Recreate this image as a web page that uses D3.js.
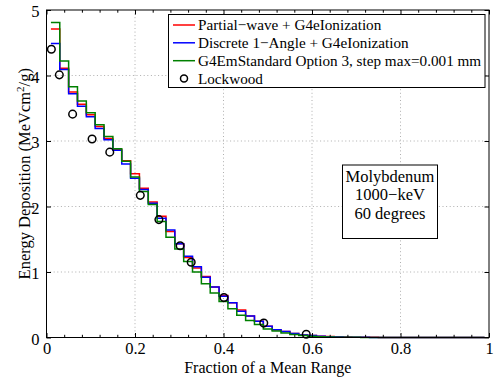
<!DOCTYPE html>
<html>
<head>
<meta charset="utf-8">
<script src="https://cdn.jsdelivr.net/npm/d3@7"></script>
<style>
  html, body { margin: 0; padding: 0; background: #fff; }
  svg { display: block; font-family: "Liberation Serif", "Times New Roman", serif; }
</style>
</head>
<body>
<svg id="chart" width="495" height="380"></svg>
<script>
// ---- data ----
const binEdges = [0.01,0.03,0.05,0.07,0.09,0.11,0.13,0.15,0.17,0.19,
                  0.21,0.23,0.25,0.27,0.29,0.31,0.33,0.35,0.37,0.39,
                  0.41,0.43,0.45,0.47,0.49,0.51,0.53,0.55,0.57,0.59,
                  0.61,0.63,0.65,0.67,0.69,0.71,0.73,0.75,0.77,0.79,
                  0.81,0.83,0.85,0.87,0.89,0.91,0.93,0.95,0.97,0.99];
const partialWave = [4.71,4.11,3.75,3.56,3.40,3.22,3.04,2.87,2.70,2.50,
                     2.28,2.07,1.85,1.62,1.43,1.22,1.06,0.93,0.77,0.64,
                     0.53,0.42,0.33,0.25,0.17,0.12,0.09,0.06,0.04,0.03,
                     0.02,0.015,0.01,0.006,0.004,0.003,0.002,0.001,0,0,
                     0,0,0,0,0,0,0,0,0,0];
const discrete1Angle = [4.49,4.09,3.72,3.53,3.37,3.19,3.02,2.86,2.65,2.43,
                        2.26,2.05,1.82,1.64,1.43,1.24,1.08,0.92,0.77,0.63,
                        0.53,0.40,0.33,0.25,0.17,0.12,0.09,0.06,0.04,0.03,
                        0.02,0.013,0.009,0.005,0.003,0.002,0.001,0,0,0,
                        0,0,0,0,0,0,0,0,0,0];
const emStandardOpt3 = [4.81,4.22,3.83,3.61,3.43,3.25,3.07,2.88,2.69,2.45,
                        2.23,2.03,1.77,1.53,1.35,1.16,1.00,0.82,0.68,0.55,
                        0.44,0.34,0.26,0.20,0.13,0.10,0.07,0.045,0.03,0.02,
                        0.01,0.008,0.005,0.003,0.002,0.001,0,0,0,0,
                        0,0,0,0,0,0,0,0,0,0];
const lockwoodX = [0.011,0.029,0.059,0.103,0.143,0.212,0.254,0.302,0.327,0.401,0.491,0.587];
const lockwoodY = [4.40,4.01,3.41,3.03,2.83,2.17,1.80,1.40,1.15,0.61,0.22,0.05];

const seriesNames = ["Partial\u2212wave + G4eIonization",
                     "Discrete 1\u2212Angle + G4eIonization",
                     "G4EmStandard Option 3, step max=0.001 mm"];
const seriesColors = ["#ff0000", "#0000ff", "#008000"];
const lockwoodName = "Lockwood";
const xTicks = [0, 0.2, 0.4, 0.6, 0.8, 1];
const xTickLabels = ["0", "0.2", "0.4", "0.6", "0.8", "1"];
const xMinorTicks = [0.04,0.08,0.12,0.16,0.24,0.28,0.32,0.36,0.44,0.48,0.52,0.56,0.64,0.68,0.72,0.76,0.84,0.88,0.92,0.96];
const yTicks = [0, 1, 2, 3, 4, 5];
const yTickLabels = ["0", "1", "2", "3", "4", "5"];
const annotationLines = ["Molybdenum", "1000\u2212keV", "60 degrees"];

// ---- layout ----
const svg = d3.select("#chart");
const L = 46.5, R = 489, T = 10, B = 337.5;
const x = d3.scaleLinear().domain([0, 1]).range([L, R]);
const y = d3.scaleLinear().domain([0, 5]).range([B, T]);

// grid
const grid = svg.append("g").attr("stroke", "#9a9a9a").attr("stroke-width", 0.8)
  .attr("stroke-dasharray", "1,2.6");
xTicks.filter(d => d > 0 && d < 1).forEach(d => {
  grid.append("line").attr("x1", x(d)).attr("x2", x(d)).attr("y1", T).attr("y2", B);
});
yTicks.filter(d => d > 0 && d < 5).forEach(d => {
  grid.append("line").attr("x1", L).attr("x2", R).attr("y1", y(d)).attr("y2", y(d));
});

// series (stairs)
const series = [partialWave, discrete1Angle, emStandardOpt3];
const line = d3.line().curve(d3.curveStepAfter)
  .x(d => x(d[0])).y(d => y(d[1]));
series.forEach((vals, i) => {
  const pts = binEdges.map((e, k) => [e, vals[k]]);
  svg.append("path").attr("d", line(pts)).attr("fill", "none")
    .attr("stroke", seriesColors[i]).attr("stroke-width", 1.5);
});

// Lockwood
svg.append("g").selectAll("circle").data(lockwoodX).join("circle")
  .attr("cx", (d) => x(d)).attr("cy", (d, i) => y(lockwoodY[i])).attr("r", 3.8)
  .attr("fill", "none").attr("stroke", "#000").attr("stroke-width", 1.5);

// axes frame
svg.append("rect").attr("x", L).attr("y", T).attr("width", R - L).attr("height", B - T)
  .attr("fill", "none").attr("stroke", "#000").attr("stroke-width", 1);

// ticks (inward, both sides)
const axBottom = d3.axisBottom(x).tickValues(xTicks).tickSize(-4.5).tickFormat((d, i) => xTickLabels[i]).tickPadding(7);
const gB = svg.append("g").attr("transform", `translate(0,${B})`).call(axBottom);
const axTop = d3.axisTop(x).tickValues(xTicks).tickSize(-4.5).tickFormat("");
const gT = svg.append("g").attr("transform", `translate(0,${T})`).call(axTop);
const axBottomMinor = d3.axisBottom(x).tickValues(xMinorTicks).tickSize(-2.7).tickFormat("");
const gBm = svg.append("g").attr("transform", `translate(0,${B})`).call(axBottomMinor);
const axTopMinor = d3.axisTop(x).tickValues(xMinorTicks).tickSize(-2.7).tickFormat("");
const gTm = svg.append("g").attr("transform", `translate(0,${T})`).call(axTopMinor);
const axLeft = d3.axisLeft(y).tickValues(yTicks).tickSize(-4.5).tickFormat((d, i) => yTickLabels[i]).tickPadding(7);
const gL = svg.append("g").attr("transform", `translate(${L},0)`).call(axLeft);
const axRight = d3.axisRight(y).tickValues(yTicks).tickSize(-4.5).tickFormat("");
const gR = svg.append("g").attr("transform", `translate(${R},0)`).call(axRight);
[gB, gT, gBm, gTm, gL, gR].forEach(g => {
  g.select(".domain").remove();
  g.selectAll("line").attr("stroke", "#000").attr("stroke-width", 1);
  g.selectAll("text").attr("font-family", "Liberation Serif").attr("font-size", 16.5).attr("fill", "#000");
});
gB.selectAll("text").attr("dy", "0.6em");
gL.selectAll("text").attr("dy", "0.4em");

// axis labels
svg.append("text").attr("x", (L + R) / 2).attr("y", 373).attr("text-anchor", "middle")
  .attr("font-size", 16).text("Fraction of a Mean Range");
const yl = svg.append("text").attr("transform", `translate(30,${(T + B) / 2}) rotate(-90)`)
  .attr("text-anchor", "middle").attr("font-size", 16.5);
yl.append("tspan").text("Energy Deposition (MeVcm");
yl.append("tspan").attr("dy", -6).attr("font-size", 11).text("2");
yl.append("tspan").attr("dy", 6).text("/g)");

// legend
const lg = svg.append("g");
lg.append("rect").attr("x", 168.5).attr("y", 14.5).attr("width", 316.5).attr("height", 73)
  .attr("fill", "#fff").attr("stroke", "#000").attr("stroke-width", 1);
const rowY = [25, 42.8, 60.7, 78.6];
seriesNames.forEach((n, i) => {
  lg.append("line").attr("x1", 173).attr("x2", 195).attr("y1", rowY[i]).attr("y2", rowY[i])
    .attr("stroke", seriesColors[i]).attr("stroke-width", 1.5);
  lg.append("text").attr("x", 198).attr("y", rowY[i] + 5).attr("font-size", 15.2).text(n);
});
lg.append("circle").attr("cx", 184).attr("cy", rowY[3]).attr("r", 3.5)
  .attr("fill", "none").attr("stroke", "#000").attr("stroke-width", 1.5);
lg.append("text").attr("x", 198).attr("y", rowY[3] + 5).attr("font-size", 15.2).text(lockwoodName);

// annotation
const an = svg.append("g");
an.append("rect").attr("x", 342.5).attr("y", 165).attr("width", 95).attr("height", 73.5)
  .attr("fill", "#fff").attr("stroke", "#000").attr("stroke-width", 1);
annotationLines.forEach((t, i) => {
  an.append("text").attr("x", 390).attr("y", 182 + i * 18.3).attr("text-anchor", "middle")
    .attr("font-size", 16.5).text(t);
});
</script>
</body>
</html>
